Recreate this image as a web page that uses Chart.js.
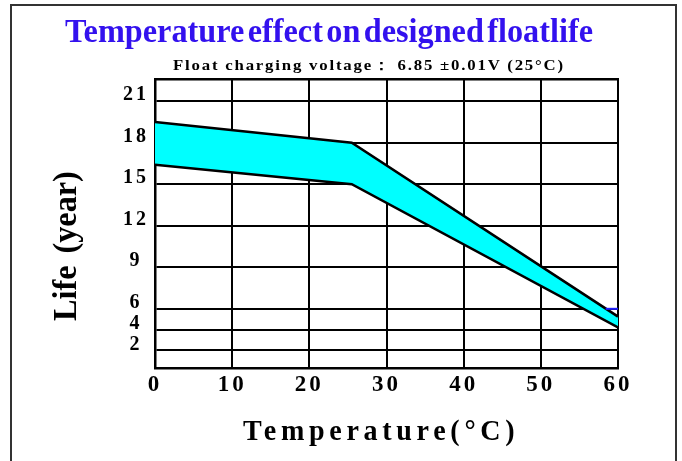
<!DOCTYPE html>
<html>
<head>
<meta charset="utf-8">
<script src="https://cdn.jsdelivr.net/npm/chart.js@4.4.1/dist/chart.umd.min.js"></script>
<style>
    html, body { margin: 0; padding: 0; background: #fff; }
    #wrap { position: relative; width: 682px; height: 461px; overflow: hidden;
            font-family: "Liberation Serif", "Times New Roman", serif; font-weight: bold; }
    #frame { position: absolute; left: 10px; top: 4px; width: 667px; height: 520px;
             border: 2px solid #333; box-sizing: border-box; }
    canvas { position: absolute; left: 0; top: 0; }
    .txt { position: absolute; white-space: nowrap; line-height: 1; transform-origin: 0 0; color: #000; }
    #title { left: 65px; top: 14px; font-size: 34px; color: #3311ee; word-spacing: -5px; }
    #sub { left: 173px; top: 58px; font-size: 15px; letter-spacing: 1.6px; }
    #xtitle { left: 243px; top: 415px; font-size: 30px; letter-spacing: 5px; }
    #ytitle { left: 48px; top: 321px; font-size: 34px; word-spacing: 4px; }
</style>
</head>
<body>
<div id="wrap">
    <div id="frame"></div>
    <canvas id="c" width="682" height="461"></canvas>
    <div class="txt" id="title">Temperature effect on designed floatlife</div>
    <div class="txt" id="sub">Float charging voltage： 6.85 ±0.01V (25°C)</div>
    <div class="txt" id="xtitle">Temperature(°C)</div>
    <div class="txt" id="ytitle" data-rot="1">Life (year)</div>
</div>
<script>
// temperature (°C) at the corners of the band
const tempC = [0, 25.5, 60];
// designed float life (years), upper and lower edge of the band
const lifeUpper = [19.5, 18, 5.25];
const lifeLower = [16.4, 15, 4.2];
// short blue mark on the 6-year line at the right edge
const markTemp = [58.4, 60];
const markLife = [6, 6];
// y tick labels as printed (not evenly spaced)
const yTickValues = [2, 4, 6, 9, 12, 15, 18, 21];

const FONT = "'Liberation Serif', 'Times New Roman', serif";

// the printed y axis gives each 3-year step twice the room of a 2-year step
const yKnots = [[2, 0], [4, 1], [6, 2], [9, 4], [12, 6], [15, 8], [18, 10], [21, 12]];

class KnotScale extends Chart.LinearScale {
    toUnit(v) {
        let i = 1;
        while (i < yKnots.length - 1 && v > yKnots[i][0]) i++;
        const [a, ua] = yKnots[i - 1];
        const [b, ub] = yKnots[i];
        return ua + (v - a) * (ub - ua) / (b - a);
    }
    configure() {
        super.configure();
        this._u0 = this.toUnit(this.min);
        this._u1 = this.toUnit(this.max);
    }
    getPixelForValue(v) {
        return this.getPixelForDecimal((this.toUnit(v) - this._u0) / (this._u1 - this._u0));
    }
    getValueForPixel(p) {
        const u = this._u0 + this.getDecimalForPixel(p) * (this._u1 - this._u0);
        let i = 1;
        while (i < yKnots.length - 1 && u > yKnots[i][1]) i++;
        const [a, ua] = yKnots[i - 1];
        const [b, ub] = yKnots[i];
        return a + (u - ua) * (b - a) / (ub - ua);
    }
}
KnotScale.id = "knots";
KnotScale.defaults = Chart.LinearScale.defaults;
Chart.register(KnotScale);

const spacedText = {
    id: "spacedText",
    beforeLayout(chart) { chart.ctx.letterSpacing = "3px"; },
    beforeDraw(chart) { chart.ctx.letterSpacing = "3px"; },
};

const toPoints = (xs, ys) => xs.map((x, i) => ({ x: x, y: ys[i] }));

new Chart(document.getElementById("c"), {
    type: "line",
    data: {
        datasets: [
            {
                data: toPoints(markTemp, markLife),
                borderColor: "#1f1fff",
                borderWidth: 2,
                pointRadius: 0,
                fill: false,
                order: -1,
            },
            {
                data: toPoints(tempC, lifeUpper),
                borderColor: "#000",
                borderWidth: 2.5,
                backgroundColor: "#00ffff",
                pointRadius: 0,
                fill: "+1",
                order: 1,
            },
            {
                data: toPoints(tempC, lifeLower),
                borderColor: "#000",
                borderWidth: 2.5,
                pointRadius: 0,
                fill: false,
                order: 0,
            },
        ],
    },
    options: {
        responsive: false,
        animation: false,
        layout: { padding: { top: 79, right: 64, left: 0, bottom: 0 } },
        plugins: { legend: { display: false }, tooltip: { enabled: false } },
        scales: {
            x: {
                type: "linear",
                min: 0,
                max: 60,
                afterFit: (s) => { s.height = 93; },
                grid: { color: "#000", lineWidth: 2, drawTicks: false },
                border: { color: "#000", width: 2.5 },
                ticks: {
                    stepSize: 10,
                    maxRotation: 0,
                    padding: 3,
                    color: "#000",
                    font: { family: FONT, size: 23, weight: "bold" },
                },
            },
            xTop: {
                type: "linear",
                position: "top",
                min: 0,
                max: 60,
                afterFit: (s) => { s.height = 0; },
                grid: { display: false, drawTicks: false },
                border: { color: "#000", width: 2.5 },
                ticks: { display: false },
            },
            y: {
                type: "knots",
                min: 0.3,
                max: 22.6,
                afterBuildTicks: (s) => { s.ticks = yTickValues.map((v) => ({ value: v })); },
                afterFit: (s) => { s.width = 155; },
                grid: { color: "#000", lineWidth: 2, drawTicks: false },
                border: { color: "#000", width: 2.5 },
                ticks: {
                    padding: 6,
                    crossAlign: "center",
                    labelOffset: -6,
                    color: "#000",
                    font: { family: FONT, size: 20, weight: "bold" },
                    callback: (v) => String(v),
                },
            },
        },
    },
    plugins: [spacedText],
});

// squeeze the titles to the printed widths
function fit(id, width) {
    const el = document.getElementById(id);
    const s = width / el.offsetWidth;
    el.style.transform = (el.dataset.rot ? "rotate(-90deg) " : "") + "scaleX(" + s + ")";
}
fit("title", 528);
fit("sub", 392);
fit("xtitle", 276);
fit("ytitle", 150);
</script>
</body>
</html>
